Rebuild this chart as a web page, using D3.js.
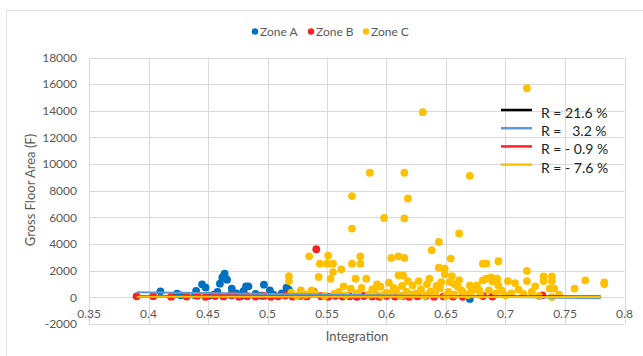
<!DOCTYPE html>
<html>
<head>
<meta charset="utf-8">
<script src="https://cdn.jsdelivr.net/npm/d3@7"></script>
<style>
  body { margin: 0; background: #fff; }
  svg { display: block; font-family: Lato, "Open Sans", sans-serif; }
</style>
</head>
<body>
<div id="chart"></div>
<script>
// zones
const zones = ["Zone A", "Zone B", "Zone C"];

const zoneA_x = [0.410, 0.424, 0.427, 0.432, 0.440, 0.445, 0.448, 0.455, 0.458, 0.460, 0.462, 0.464, 0.466, 0.470, 0.474, 0.480, 0.482, 0.484, 0.490, 0.497, 0.502, 0.505, 0.512, 0.516, 0.518, 0.439, 0.451, 0.469, 0.478, 0.495, 0.463, 0.670];
const zoneA_y = [450, 280, 150, 120, 480, 980, 730, 200, 400, 1030, 1480, 1780, 1330, 650, 300, 480, 830, 830, 250, 950, 530, 200, 300, 730, 550, 150, 120, 180, 100, 120, 1600, -120];

const zoneB_x = [0.390, 0.404, 0.419, 0.432, 0.441, 0.448, 0.456, 0.463, 0.470, 0.476, 0.483, 0.490, 0.497, 0.503, 0.509, 0.515, 0.521, 0.527, 0.533, 0.539, 0.541, 0.545, 0.551, 0.557, 0.563, 0.569, 0.575, 0.581, 0.588, 0.594, 0.600, 0.607, 0.613, 0.619, 0.626, 0.633, 0.640, 0.648, 0.656, 0.664, 0.681, 0.689, 0.731];
const zoneB_y = [80, 90, 50, 60, 120, 40, 100, 70, 150, 50, 90, 60, 110, 40, 80, 130, 60, 100, 70, 400, 3610, 90, 50, 120, 60, 80, 40, 100, 70, 50, 110, 60, 90, 40, 80, 120, 50, 70, 60, 40, 100, 60, 150];

const zoneC_x = [0.718, 0.6305, 0.586, 0.615, 0.670, 0.571, 0.618, 0.598, 0.615, 0.661, 0.571, 0.644, 0.638, 0.535, 0.551, 0.544, 0.550, 0.555, 0.571, 0.578, 0.578, 0.604, 0.610, 0.615, 0.654, 0.644, 0.649, 0.555, 0.562, 0.543, 0.553, 0.518, 0.518, 0.610, 0.614, 0.574, 0.583, 0.592, 0.618, 0.627, 0.636, 0.649, 0.646, 0.653, 0.528, 0.537, 0.564, 0.570, 0.579, 0.681, 0.684, 0.694, 0.718, 0.702, 0.708, 0.711, 0.718, 0.725, 0.732, 0.739, 0.732, 0.739, 0.737, 0.741, 0.758, 0.767, 0.783, 0.783, 0.663, 0.670, 0.676, 0.681, 0.684, 0.688, 0.689, 0.693, 0.694, 0.686, 0.678, 0.671, 0.739,
  0.532, 0.540, 0.548, 0.556, 0.560, 0.566, 0.575, 0.585, 0.590, 0.596, 0.600, 0.603, 0.608, 0.612, 0.617, 0.621, 0.625, 0.629, 0.632, 0.637, 0.641, 0.645, 0.650, 0.652, 0.657, 0.660, 0.665, 0.668, 0.674, 0.679, 0.692, 0.697, 0.700, 0.705, 0.715, 0.722, 0.728, 0.745, 0.595, 0.606, 0.622, 0.634, 0.642, 0.657, 0.520, 0.525, 0.655, 0.661, 0.602, 0.588, 0.613];
const zoneC_y = [15700, 13900, 9350, 9350, 9120, 7600, 7420, 5960, 5920, 4790, 5165, 4160, 3535, 3080, 3135, 2530, 2530, 2530, 2530, 3080, 2530, 2955, 3080, 2955, 2910, 2230, 2160, 1900, 2105, 1530, 1405, 1600, 1225, 1655, 1655, 1405, 1405, 980, 1225, 1225, 1405, 1730, 1150, 1150, 525, 525, 830, 650, 700, 2530, 2530, 2710, 1980, 1225, 1075, 580, 1225, 830, 1580, 1580, 1225, 1225, 655, 655, 655, 1280, 1130, 1000, 525, 900, 900, 1280, 1400, 1500, 1200, 1400, 900, 530, 530, 400, 20,
  200, 300, 100, 250, 400, 150, 300, 200, 450, 150, 350, 250, 500, 100, 400, 200, 300, 600, 150, 450, 250, 700, 100, 400, 200, 800, 300, 150, 600, 200, 300, 500, 150, 300, 250, 400, 100, 200, 800, 700, 900, 1000, 850, 1000, 350, 100, 1600, 1300, 1100, 600, 850];

// trend lines (end points)
const trendLabels = ["R = 21.6 %", "R =   3.2 %", "R = - 0.9 %", "R = - 7.6 %"];
const trendX = [[0.39, 0.78], [0.39, 0.78], [0.39, 0.78], [0.39, 0.78]];
const trendY = [[60, 60], [380, -60], [90, 40], [50, 30]];

const xTicks = [0.35, 0.4, 0.45, 0.5, 0.55, 0.6, 0.65, 0.7, 0.75, 0.8];
const yTicks = [-2000, 0, 2000, 4000, 6000, 8000, 10000, 12000, 14000, 16000, 18000];

const zoneColors = ["#0070c0", "#ff2020", "#ffc000"];
const trendColors = ["#000000", "#5b9bd5", "#ff2020", "#ffc000"];

const width = 643, height = 356;

const svg = d3.select("#chart").append("svg")
    .attr("width", width)
    .attr("height", height);

// chart border
svg.append("rect")
    .attr("x", 6.5).attr("y", 10.5)
    .attr("width", 660).attr("height", 380)
    .attr("fill", "none")
    .attr("stroke", "#e3e3e3");

const x = d3.scaleLinear().domain([0.35, 0.8]).range([89, 624.5]);
const y = d3.scaleLinear().domain([-2000, 18000]).range([324, 57.5]);

// grid
svg.append("g").selectAll("line")
    .data(yTicks).enter().append("line")
    .attr("x1", x(0.35)).attr("x2", x(0.8))
    .attr("y1", d => Math.round(y(d)) + 0.5).attr("y2", d => Math.round(y(d)) + 0.5)
    .attr("stroke", "#d9d9d9");

svg.append("g").selectAll("line")
    .data(xTicks).enter().append("line")
    .attr("x1", d => Math.round(x(d)) + 0.5).attr("x2", d => Math.round(x(d)) + 0.5)
    .attr("y1", y(18000)).attr("y2", y(-2000))
    .attr("stroke", "#d9d9d9");

// tick labels
svg.append("g").selectAll("text")
    .data(yTicks).enter().append("text")
    .attr("x", 77)
    .attr("y", d => y(d))
    .attr("dy", "0.35em")
    .attr("text-anchor", "end")
    .attr("font-size", 12)
    .attr("fill", "#595959")
    .text(d => d);

svg.append("g").selectAll("text")
    .data(xTicks).enter().append("text")
    .attr("x", d => x(d))
    .attr("y", y(0) + 16)
    .attr("dy", "0.35em")
    .attr("text-anchor", "middle")
    .attr("font-size", 12)
    .attr("fill", "#595959")
    .text(d => d);

// axis titles
svg.append("text")
    .attr("transform", "translate(35,190) rotate(-90)")
    .attr("text-anchor", "middle")
    .attr("font-size", 13)
    .attr("fill", "#595959")
    .text("Gross Floor Area (F)");

svg.append("text")
    .attr("x", 357).attr("y", 336)
    .attr("dy", "0.35em")
    .attr("text-anchor", "middle")
    .attr("font-size", 13)
    .attr("fill", "#595959")
    .text("Integration");

// points
const series = [
    { xs: zoneA_x, ys: zoneA_y },
    { xs: zoneB_x, ys: zoneB_y },
    { xs: zoneC_x, ys: zoneC_y }
];

series.forEach(function(s, i) {
    svg.append("g").selectAll("circle")
        .data(s.xs.map((v, j) => [v, s.ys[j]]))
        .enter().append("circle")
        .attr("cx", d => x(d[0]))
        .attr("cy", d => y(d[1]))
        .attr("r", 3.9)
        .attr("fill", zoneColors[i]);
});

// trend lines
const line = d3.line().x(d => x(d[0])).y(d => y(d[1]));
trendX.forEach(function(tx, i) {
    svg.append("path")
        .datum(tx.map((v, j) => [v, trendY[i][j]]))
        .attr("d", line)
        .attr("fill", "none")
        .attr("stroke", trendColors[i])
        .attr("stroke-width", 2);
});

// legend on top
const legend = svg.append("g");
const legendX = [255, 311, 366];
zones.forEach(function(z, i) {
    legend.append("circle")
        .attr("cx", legendX[i]).attr("cy", 31.5).attr("r", 3.2)
        .attr("fill", zoneColors[i]);
    legend.append("text")
        .attr("x", legendX[i] + 5).attr("y", 31.5)
        .attr("dy", "0.35em")
        .attr("font-size", 12)
        .attr("fill", "#595959")
        .text(z);
});

// R legend
trendLabels.forEach(function(t, i) {
    const ly = 110 + i * 18.2;
    svg.append("line")
        .attr("x1", 501).attr("x2", 532)
        .attr("y1", ly).attr("y2", ly)
        .attr("stroke", trendColors[i])
        .attr("stroke-width", 2.5);
    svg.append("text")
        .attr("x", 541).attr("y", ly + 3)
        .attr("dy", "0.35em")
        .attr("font-size", 14)
        .attr("fill", "#222")
        .style("white-space", "pre")
        .text(t);
});
</script>
</body>
</html>
